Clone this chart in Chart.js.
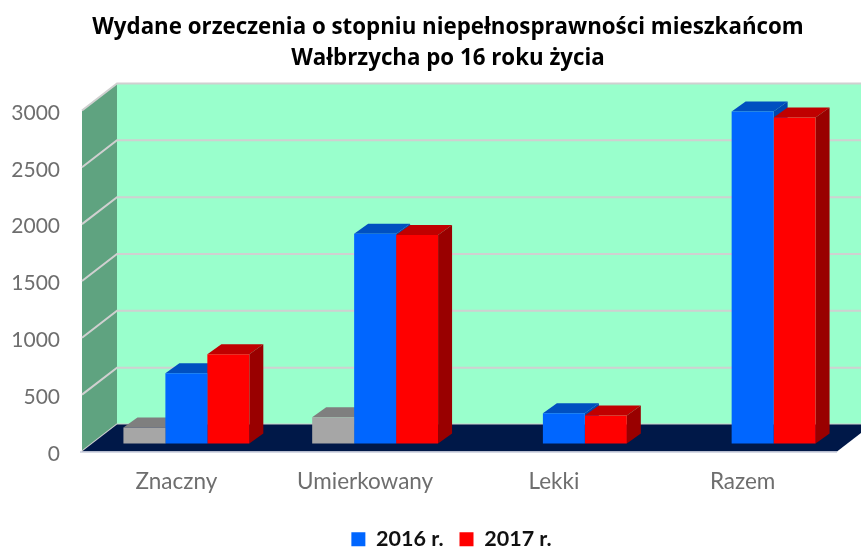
<!DOCTYPE html>
<html lang="pl">
<head>
  <meta charset="UTF-8">
  <style>
    html, body { margin: 0; padding: 0; background: #fff; }
    #wrap { position: relative; width: 861px; height: 548px; }
  </style>
</head>
<body>
  <div id="wrap"><canvas id="myChart" width="861" height="548"></canvas></div>
  <script src="https://cdn.jsdelivr.net/npm/chart.js"></script>
  <script>
    const categories = ["Znaczny", "Umierkowany", "Lekki", "Razem"];
    const unnamedValues = [141, 230, 0, 0];
    const values2016 = [618, 1845, 265, 2921];
    const values2017 = [785, 1835, 247, 2868];
    const yTicks = [0, 500, 1000, 1500, 2000, 2500, 3000];
    const titleLines = ["Wydane orzeczenia o stopniu niepełnosprawności mieszkańcom", "Wałbrzycha po 16 roku życia"];

    // depth of the fake 3D room and of the boxes standing in it
    const roomDx = 35, roomDy = -27;
    const barShiftX = 10, barShiftY = -8;
    const boxDx = 14, boxDy = -10;

    function poly(ctx, pts, color) {
      ctx.beginPath();
      pts.forEach((p, i) => i ? ctx.lineTo(p[0], p[1]) : ctx.moveTo(p[0], p[1]));
      ctx.closePath();
      ctx.fillStyle = color;
      ctx.fill();
    }

    const fake3d = {
      id: 'fake3d',
      afterLayout(chart) {
        // title and legend are not centred on the canvas in the original
        chart.titleBlock.left += 29.5;
        chart.titleBlock.right += 29.5;
        chart.legend.left += 33;
        chart.legend.right += 33;
      },
      beforeDatasetsDraw(chart) {
        const { ctx, chartArea: a, scales: { y } } = chart;
        const y0 = y.getPixelForValue(0), yMax = y.getPixelForValue(3000);
        // back wall, side wall
        poly(ctx, [[a.left + roomDx, yMax + roomDy], [a.right + roomDx, yMax + roomDy], [a.right + roomDx, y0 + roomDy], [a.left + roomDx, y0 + roomDy]], '#99FFCC');
        poly(ctx, [[a.left, yMax], [a.left + roomDx, yMax + roomDy], [a.left + roomDx, y0 + roomDy], [a.left, y0]], '#5FA380');
        // gridlines
        ctx.save();
        ctx.strokeStyle = '#D0D0D0';
        ctx.lineWidth = 2;
        y.ticks.forEach(t => {
          const py = y.getPixelForValue(t.value);
          ctx.beginPath();
          ctx.moveTo(a.left, py);
          ctx.lineTo(a.left + roomDx, py + roomDy);
          ctx.lineTo(a.right + roomDx, py + roomDy);
          ctx.stroke();
        });
        ctx.restore();
        // floor
        poly(ctx, [[a.left, y0], [a.right, y0], [a.right + roomDx, y0 + roomDy], [a.left + roomDx, y0 + roomDy]], '#001848');
        ctx.save();
        ctx.strokeStyle = '#C8CCDC';
        ctx.lineWidth = 1.5;
        ctx.beginPath();
        ctx.moveTo(a.left - 2, y0 + 0.5);
        ctx.lineTo(a.right, y0 + 0.5);
        ctx.stroke();
        ctx.restore();

        // all top and side faces first, left to right, then the library draws the fronts
        ctx.save();
        ctx.translate(barShiftX, barShiftY);
        chart.data.datasets.forEach((ds, i) => {
          chart.getDatasetMeta(i).data.forEach(bar => {
            const { x, y, base, width } = bar.getProps(['x', 'y', 'base', 'width'], true);
            if (base - y < 1) return;
            const l = x - width / 2, r = x + width / 2;
            poly(ctx, [[l, y], [l + boxDx, y + boxDy], [r + boxDx, y + boxDy], [r, y]], ds.topColor);
            poly(ctx, [[r, y], [r + boxDx, y + boxDy], [r + boxDx, base + boxDy], [r, base]], ds.sideColor);
          });
        });
        ctx.restore();
        ctx.save();
        ctx.translate(barShiftX, barShiftY);
      },
      afterDatasetsDraw(chart) {
        chart.ctx.restore();
      }
    };

    new Chart(document.getElementById('myChart'), {
      type: 'bar',
      data: {
        labels: categories,
        datasets: [
          { label: '', data: unnamedValues, backgroundColor: '#A6A6A6', topColor: '#7F7F7F', sideColor: '#6E6E6E' },
          { label: '2016 r.', data: values2016, backgroundColor: '#0066FF', topColor: '#0050C0', sideColor: '#0047AE' },
          { label: '2017 r.', data: values2017, backgroundColor: '#FF0000', topColor: '#C00000', sideColor: '#990000' }
        ]
      },
      options: {
        responsive: false,
        animation: false,
        clip: false,
        categoryPercentage: 0.667,
        barPercentage: 1,
        layout: { padding: { left: 0, right: 24, top: 8, bottom: -12 } },
        scales: {
          x: {
            grid: { display: false },
            border: { display: false },
            afterFit(scale) { scale.height = 61; },
            ticks: { color: '#6E6E6E', padding: 9, maxRotation: 0, font: { family: 'Lato', size: 22.5 } }
          },
          y: {
            min: 0,
            max: 3000,
            afterFit(scale) { scale.width = 82; },
            grid: { display: false },
            border: { display: false },
            afterBuildTicks(scale) { scale.ticks = yTicks.map(v => ({ value: v })); },
            ticks: { color: '#6E6E6E', padding: 14, labelOffset: 2.5, callback: v => String(v), font: { family: 'Lato', size: 21 } }
          }
        },
        plugins: {
          title: {
            display: true,
            text: titleLines,
            color: '#000',
            padding: { top: 4, bottom: 36 },
            font: { family: 'Open Sans', size: 22.3, weight: 'bold', lineHeight: 1.4 }
          },
          legend: {
            position: 'bottom',
            labels: {
              filter: item => item.text !== '',
              color: '#111',
              boxWidth: 14,
              boxHeight: 14,
              padding: 16,
              font: { family: 'Lato', size: 21.5, weight: 'bold' }
            }
          },
          tooltip: { enabled: false }
        }
      },
      plugins: [fake3d]
    });
  </script>
</body>
</html>
